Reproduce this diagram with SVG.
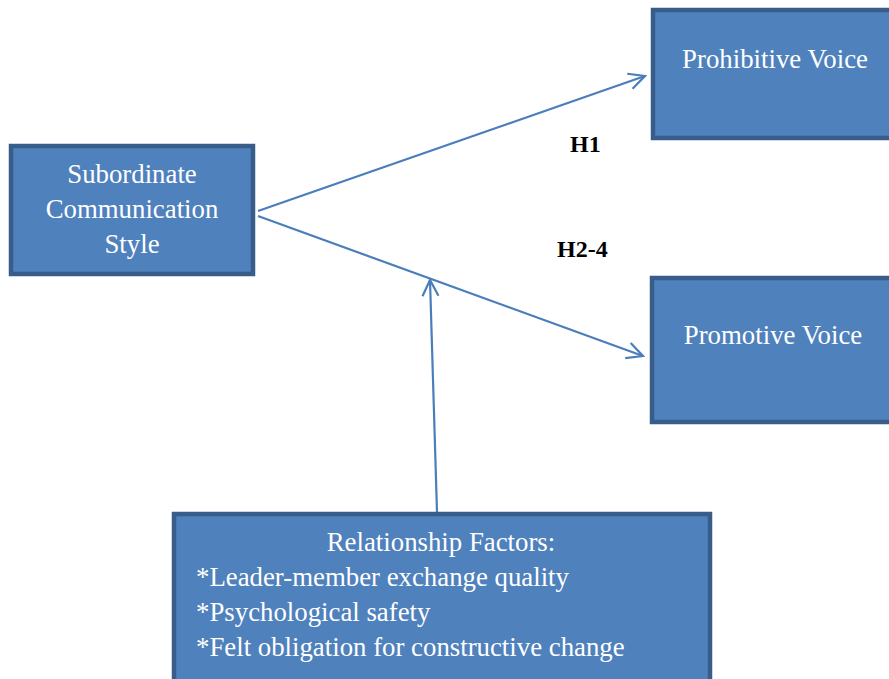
<svg xmlns="http://www.w3.org/2000/svg" width="889" height="679" viewBox="0 0 889 679">
<defs>
<style>
.box{fill:#4F81BD;stroke:#385D8A;stroke-width:4.5}
.t{font-family:"Liberation Serif","Times New Roman",serif;font-size:26.8px;fill:#FFFFFF;text-anchor:middle}
.tl{font-family:"Liberation Serif","Times New Roman",serif;font-size:26.8px;fill:#FFFFFF}
.h{font-family:"Liberation Serif","Times New Roman",serif;font-size:24px;font-weight:bold;fill:#000000}
.c{stroke:#4A7EBB;stroke-width:2.2;fill:none}
</style>
<marker id="arr" viewBox="0 0 20 20" refX="18" refY="10" markerWidth="20" markerHeight="20" markerUnits="userSpaceOnUse" orient="auto">
<path d="M2,2 L18,10 L2,18" fill="none" stroke="#4A7EBB" stroke-width="2.2"/>
</marker>
</defs>
<rect width="889" height="679" fill="#FFFFFF"/>
<g id="connectors">
<line class="c" x1="258" y1="211" x2="645" y2="76" marker-end="url(#arr)"/>
<line class="c" x1="258" y1="216" x2="643" y2="356" marker-end="url(#arr)"/>
<line class="c" x1="437" y1="512" x2="430" y2="280" marker-end="url(#arr)"/>
</g>
<g id="subordinate">
<rect class="box" x="11" y="146" width="242" height="128"/>
<text class="t" x="132" y="183">Subordinate</text>
<text class="t" x="132" y="218">Communication</text>
<text class="t" x="132" y="253">Style</text>
</g>
<g id="prohibitive">
<rect class="box" x="653" y="10" width="242" height="128"/>
<text class="t" x="775" y="68">Prohibitive Voice</text>
</g>
<g id="promotive">
<rect class="box" x="652" y="278" width="243" height="144"/>
<text class="t" x="773" y="344">Promotive Voice</text>
</g>
<g id="relationship">
<rect class="box" x="174" y="514" width="536" height="175"/>
<text class="t" x="441" y="551">Relationship Factors:</text>
<text class="tl" x="196" y="586">*Leader-member exchange quality</text>
<text class="tl" x="196" y="621">*Psychological safety</text>
<text class="tl" x="196" y="656">*Felt obligation for constructive change</text>
</g>
<g id="labels">
<text class="h" x="570" y="152">H1</text>
<text class="h" x="557" y="257">H2-4</text>
</g>
</svg>
